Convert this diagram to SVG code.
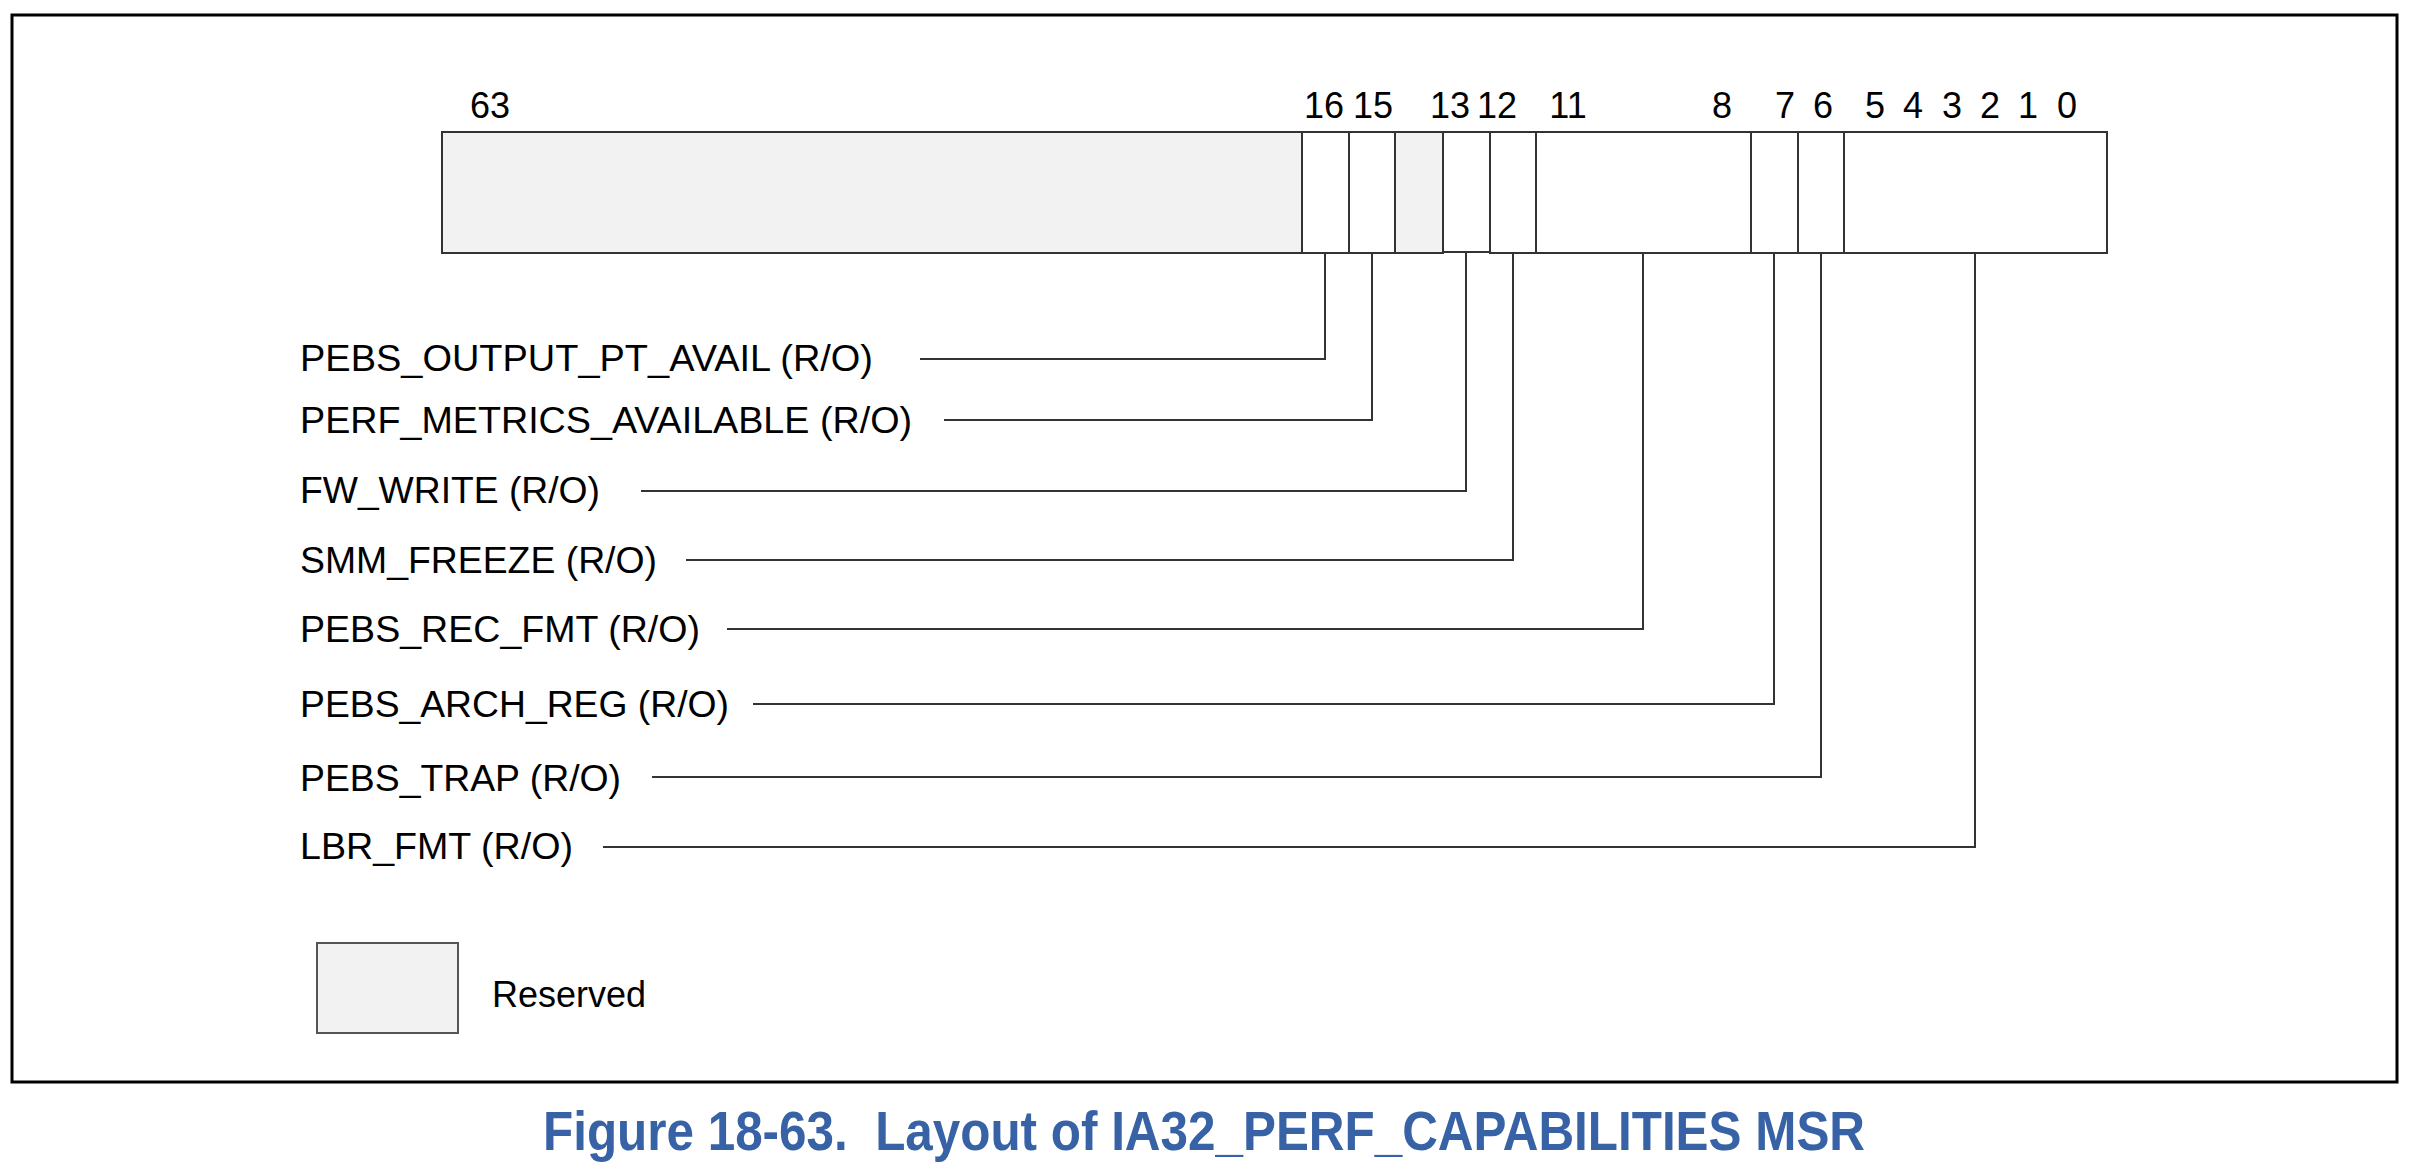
<svg xmlns="http://www.w3.org/2000/svg" width="2411" height="1164" viewBox="0 0 2411 1164">
<style>
  .frame{fill:#fff;stroke:#000;stroke-width:3}
  .cell{fill:#fff;stroke:#333;stroke-width:2}
  .res{fill:#f2f2f2;stroke:#333;stroke-width:2}
  .bit{font-family:"Liberation Sans",Arial,sans-serif;font-size:36px;fill:#000;text-anchor:middle}
  .lbl{font-family:"Liberation Sans",Arial,sans-serif;font-size:37px;fill:#000}
  .conn{fill:none;stroke:#333;stroke-width:2}
  .title{font-family:"Liberation Sans Narrow","Liberation Sans",Arial,sans-serif;font-weight:bold;font-size:55px;fill:#3862a6;white-space:pre}
</style>
<rect class="frame" x="12" y="15" width="2385" height="1067"/>

<g id="bit-numbers">
  <text class="bit" x="490" y="118">63</text>
  <text class="bit" x="1324" y="118">16</text>
  <text class="bit" x="1373" y="118">15</text>
  <text class="bit" x="1450" y="118">13</text>
  <text class="bit" x="1497" y="118">12</text>
  <text class="bit" x="1568" y="118">11</text>
  <text class="bit" x="1722" y="118">8</text>
  <text class="bit" x="1785" y="118">7</text>
  <text class="bit" x="1823" y="118">6</text>
  <text class="bit" x="1875" y="118">5</text>
  <text class="bit" x="1913" y="118">4</text>
  <text class="bit" x="1952" y="118">3</text>
  <text class="bit" x="1990" y="118">2</text>
  <text class="bit" x="2028" y="118">1</text>
  <text class="bit" x="2067" y="118">0</text>
</g>

<g id="register">
  <g id="cell-63-17"><rect class="res" x="442" y="132" width="860" height="121"/></g>
  <g id="cell-16"><rect class="cell" x="1302" y="132" width="47" height="121"/></g>
  <g id="cell-15"><rect class="cell" x="1349" y="132" width="46" height="121"/></g>
  <g id="cell-14"><rect class="res" x="1395" y="132" width="48" height="121"/></g>
  <g id="cell-13"><rect class="cell" x="1443" y="132" width="47" height="120"/></g>
  <g id="cell-12"><rect class="cell" x="1490" y="132" width="46" height="121"/></g>
  <g id="cell-11-8"><rect class="cell" x="1536" y="132" width="215" height="121"/></g>
  <g id="cell-7"><rect class="cell" x="1751" y="132" width="47" height="121"/></g>
  <g id="cell-6"><rect class="cell" x="1798" y="132" width="46" height="121"/></g>
  <g id="cell-5-0"><rect class="cell" x="1844" y="132" width="263" height="121"/></g>
</g>

<g id="labels">
  <g id="lbl-pebs-output"><text class="lbl" x="300" y="371" textLength="573" lengthAdjust="spacingAndGlyphs">PEBS_OUTPUT_PT_AVAIL (R/O)</text></g>
  <g id="lbl-perf-metrics"><text class="lbl" x="300" y="433" textLength="612" lengthAdjust="spacingAndGlyphs">PERF_METRICS_AVAILABLE (R/O)</text></g>
  <g id="lbl-fw-write"><text class="lbl" x="300" y="503" textLength="300" lengthAdjust="spacingAndGlyphs">FW_WRITE (R/O)</text></g>
  <g id="lbl-smm-freeze"><text class="lbl" x="300" y="573" textLength="357" lengthAdjust="spacingAndGlyphs">SMM_FREEZE (R/O)</text></g>
  <g id="lbl-pebs-rec-fmt"><text class="lbl" x="300" y="642" textLength="400" lengthAdjust="spacingAndGlyphs">PEBS_REC_FMT (R/O)</text></g>
  <g id="lbl-pebs-arch-reg"><text class="lbl" x="300" y="717" textLength="429" lengthAdjust="spacingAndGlyphs">PEBS_ARCH_REG (R/O)</text></g>
  <g id="lbl-pebs-trap"><text class="lbl" x="300" y="791" textLength="321" lengthAdjust="spacingAndGlyphs">PEBS_TRAP (R/O)</text></g>
  <g id="lbl-lbr-fmt"><text class="lbl" x="300" y="859" textLength="273" lengthAdjust="spacingAndGlyphs">LBR_FMT (R/O)</text></g>
</g>

<g id="connectors">
  <polyline class="conn" points="920,359 1325,359 1325,253"/>
  <polyline class="conn" points="944,420 1372,420 1372,253"/>
  <polyline class="conn" points="641,491 1466,491 1466,252"/>
  <polyline class="conn" points="686,560 1513,560 1513,253"/>
  <polyline class="conn" points="727,629 1643,629 1643,253"/>
  <polyline class="conn" points="753,704 1774,704 1774,253"/>
  <polyline class="conn" points="652,777 1821,777 1821,253"/>
  <polyline class="conn" points="603,847 1975,847 1975,253"/>
</g>

<g id="legend">
  <rect x="317" y="943" width="141" height="90" fill="#f2f2f2" stroke="#555" stroke-width="2"/>
  <text class="lbl" x="492" y="1007" style="font-size:36px">Reserved</text>
</g>

<g id="caption">
  <text class="title" x="543" y="1150" textLength="1322" lengthAdjust="spacingAndGlyphs" xml:space="preserve">Figure 18-63.  Layout of IA32_PERF_CAPABILITIES MSR</text>
</g>
</svg>
